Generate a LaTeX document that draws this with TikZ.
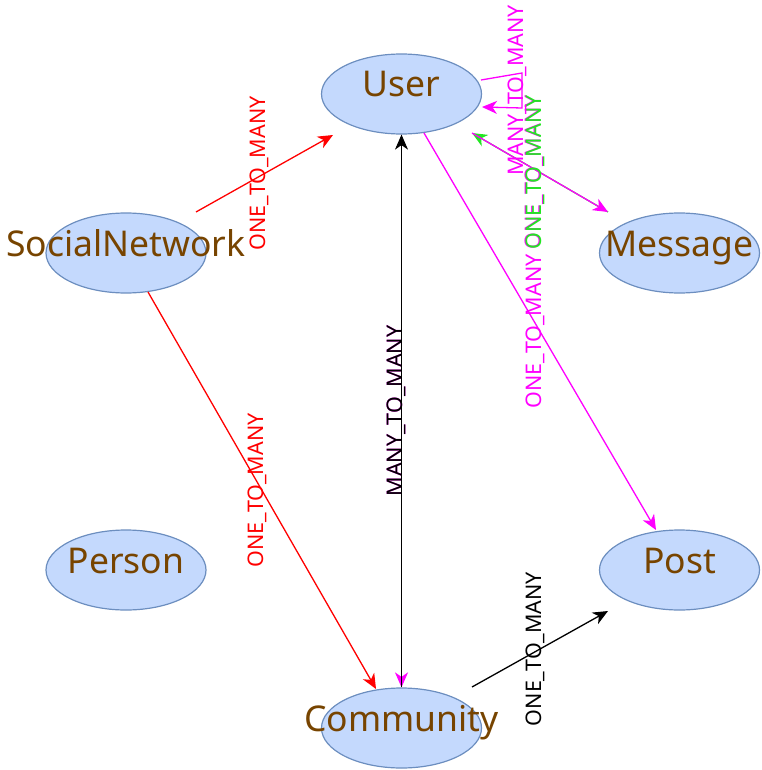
\documentclass[tikz,border=0pt]{standalone}
\usepackage{fontspec}
\setmainfont{Noto Sans}
\usetikzlibrary{arrows.meta,shapes.geometric}
\definecolor{entityfill}{HTML}{C4D9FD}
\definecolor{entityline}{HTML}{6C8EBF}
\definecolor{entityink}{HTML}{774400}
\definecolor{relgreen}{HTML}{22E622}
\definecolor{relmagenta}{HTML}{FF00FF}
\definecolor{relred}{HTML}{FF0000}
\begin{document}
\begin{tikzpicture}%
	[x=1pt,
	y=-1pt,
	entity/.style={ellipse, draw=entityline, fill=entityfill, line width=1.2pt, minimum width=160pt, minimum height=80pt, inner sep=0pt},
	entitytext/.style={text=entityink, font=\fontsize{35.5}{40}\selectfont, inner sep=0pt, text height=26pt, text depth=20pt},
	rel/.style={line width=1.3pt, -{Stealth[length=15pt, width=13pt, inset=4.5pt]}},
	rellabel/.style={rotate=90, inner sep=0pt, font=\fontsize{21.5}{24}\selectfont, text height=15.5pt, text depth=13pt}]
%
\useasboundingbox (0,0) rectangle (761,770);
%%
%% Drawing the entities
%%
\node[entity, label={[entitytext]center:User}] (user) at (401.5,94) {};
\node[entity, label={[entitytext]center:SocialNetwork}] (socialnetwork) at (126,253) {};
\node[entity, label={[entitytext]center:Message}] (message) at (679.5,253) {};
\node[entity, label={[entitytext]center:Person}] (person) at (126,570) {};
\node[entity, label={[entitytext]center:Post}] (post) at (679.5,570) {};
\node[entity, label={[entitytext]center:Community}] (community) at (401.5,728) {};
%%
%% Drawing the relations
%%
\draw[rel, relred] ([shift={(70,-41)}]socialnetwork.center) -- ([shift={(-68.5,41)}]user.center) node[rellabel, midway] {ONE\_TO\_MANY};
\draw[rel, relred] ([shift={(22,39)}]socialnetwork.center) -- ([shift={(-25.5,-39)}]community.center) node[rellabel, midway] {ONE\_TO\_MANY};
\draw[rel, relmagenta, line width=1.6pt] (user.south) -- (community.north) node[rellabel, midway] {MANY\_TO\_MANY};
\draw[rel, black, line width=1pt] (community.north) -- (user.south) node[rellabel, midway] {MANY\_TO\_MANY};
\draw[rel, relmagenta] ([shift={(22.5,39)}]user.center) -- ([shift={(-23.5,-40)}]post.center) node[rellabel, midway] {ONE\_TO\_MANY};
\draw[rel, black] ([shift={(70.5,-41)}]community.center) -- ([shift={(-71.5,41)}]post.center) node[rellabel, midway] {ONE\_TO\_MANY};
%% the pair between User and Message
\draw[rel, relgreen] ([shift={(-71.5,-41)}]message.center) -- ([shift={(70.5,39)}]user.center);
\draw[rel, relmagenta] ([shift={(70.5,39)}]user.center) -- ([shift={(-71.5,-41)}]message.center) node[rellabel, midway, yshift=1pt] {ONE\_TO\_MANY};
\path ([shift={(-71.5,-41)}]message.center) -- ([shift={(70.5,39)}]user.center) node[rellabel, midway, relgreen] {ONE\_TO\_MANY};
%% loop on User
\draw[rel, relmagenta] ([shift={(79.5,-14)}]user.center) -- ([shift={(120.5,-21)}]user.center) -- ([shift={(120.5,14)}]user.center) node[rellabel, midway] {MANY\_TO\_MANY} -- ([shift={(80.5,13)}]user.center);
%
\end{tikzpicture}
\end{document}
